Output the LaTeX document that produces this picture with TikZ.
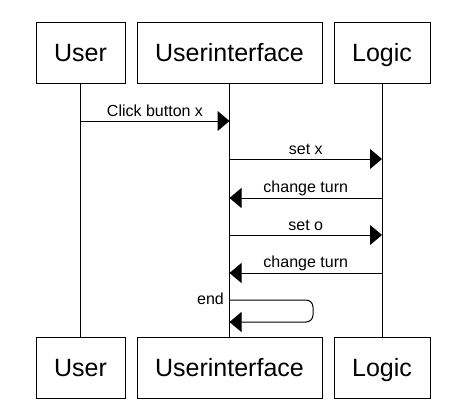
\documentclass[tikz,border=0pt]{standalone}
\usepackage{fontspec}
\setmainfont{Liberation Sans}
\usetikzlibrary{arrows.meta}
\begin{document}
\begin{tikzpicture}[x=1pt,y=-1pt,
  actor/.style={draw, line width=1pt, minimum height=61pt, inner sep=0pt, text height=17.5pt, text depth=0pt, font=\fontsize{25}{29}\selectfont},
  msg/.style={line width=1pt, -{Triangle[length=12pt,width=20pt]}},
  lbl/.style={font=\fontsize{16}{19}\selectfont, inner sep=0pt},
  life/.style={line width=1pt}]
\useasboundingbox (0,0) rectangle (456,407);
% top actors
\node[actor, minimum width=89pt] (ut) at (80.5,52.5) {User};
\node[actor, minimum width=185pt] (it) at (229.5,52.5) {Userinterface};
\node[actor, minimum width=96pt] (lt) at (382,52.5) {Logic};
% bottom actors
\node[actor, minimum width=89pt] (ub) at (80.5,367.5) {User};
\node[actor, minimum width=185pt] (ib) at (229.5,367.5) {Userinterface};
\node[actor, minimum width=96pt] (lb) at (382,367.5) {Logic};
% lifelines
\draw[life] (ut) -- (ub);
\draw[life] (it) -- (ib);
\draw[life] (lt) -- (lb);
% message points
\coordinate (m1a) at (ut.south |- 0,121);
\coordinate (m1b) at (it.south |- 0,121);
\coordinate (m2a) at (it.south |- 0,159);
\coordinate (m2b) at (lt.south |- 0,159);
\coordinate (m3a) at (lt.south |- 0,198);
\coordinate (m3b) at (it.south |- 0,198);
\coordinate (m4a) at (it.south |- 0,235);
\coordinate (m4b) at (lt.south |- 0,235);
\coordinate (m5a) at (lt.south |- 0,273);
\coordinate (m5b) at (it.south |- 0,273);
\coordinate (e1) at (it.south |- 0,300);
\coordinate (e2) at (it.south |- 0,322);
\coordinate (ec1) at (313,300);
\coordinate (ec2) at (313,322);
% messages
\draw[msg] (m1a) -- node[lbl, anchor=base, yshift=5pt] {Click button x} (m1b);
\draw[msg] (m2a) -- node[lbl, anchor=base, yshift=5pt] {set x} (m2b);
\draw[msg] (m3a) -- node[lbl, anchor=base, yshift=6pt] {change turn} (m3b);
\draw[msg] (m4a) -- node[lbl, anchor=base, yshift=5pt] {set o} (m4b);
\draw[msg] (m5a) -- node[lbl, anchor=base, yshift=6pt] {change turn} (m5b);
\draw[msg, rounded corners=7pt] (e1) -- (ec1) -- (ec2) -- (e2);
\node[lbl, anchor=base east] (endl) at (224,304) {end};
\end{tikzpicture}
\end{document}
